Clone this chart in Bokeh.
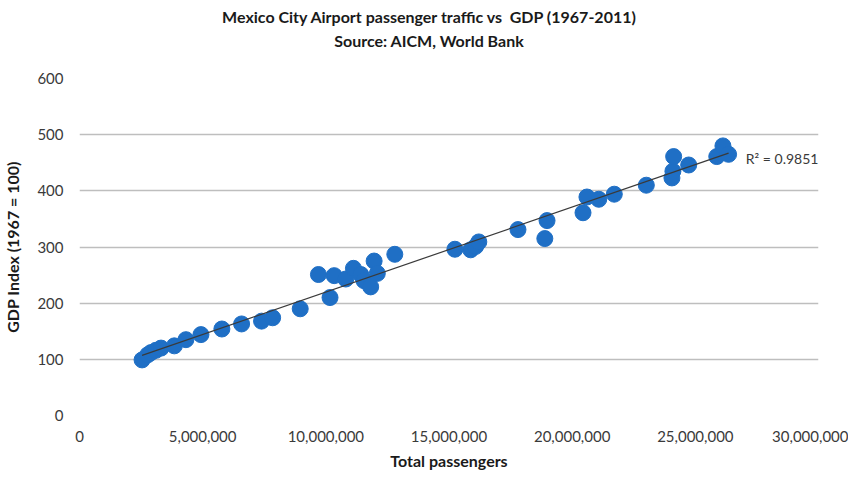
import numpy as np
from bokeh.plotting import figure
from bokeh.models import Range1d, FixedTicker, NumeralTickFormatter, Label, Div
from bokeh.layouts import column
from bokeh.embed import file_html
from bokeh.resources import INLINE

# Total passengers (millions) and GDP index (1967 = 100)
passengers_m = [2.54, 2.77, 2.90, 3.10, 3.31, 3.85, 4.32, 4.93, 5.78, 6.58,
                7.39, 7.84, 8.96, 9.70, 10.17, 10.34, 10.81, 11.12, 11.42, 11.55,
                11.82, 11.96, 12.09, 12.80, 15.24, 15.88, 16.08, 16.21, 17.80, 18.89,
                18.98, 20.44, 20.60, 21.08, 21.71, 23.01, 24.05, 24.09, 24.12, 24.73,
                25.87, 26.12, 26.35]
gdp_index = [99, 108, 112, 116, 120, 124, 135, 144, 154, 163,
             168, 174, 190, 251, 210, 249, 243, 262, 251, 240,
             229, 275, 253, 287, 296, 295, 301, 309, 331, 315,
             347, 361, 389, 385, 394, 410, 423, 435, 461, 446,
             461, 480, 465]
x_ticks = [0, 5_000_000, 10_000_000, 15_000_000, 20_000_000, 25_000_000, 30_000_000]
y_ticks = [0, 100, 200, 300, 400, 500, 600]
title_lines = ["Mexico City Airport passenger traffic vs  GDP (1967-2011)",
               "Source: AICM, World Bank"]
r2_text = "R² = 0.9851"

passengers = [v * 1_000_000 for v in passengers_m]

FONT = "Lato"
TXT = "#3a3a3a"

# centred two-line title
title_div = Div(text="<br>".join(title_lines), width=848, height=60,
                styles={"text-align": "center", "font-family": "Lato", "font-weight": "bold",
                        "font-size": "16px", "line-height": "24px", "color": "#1a1a1a",
                        "white-space": "pre"})

p = figure(width=848, height=402, output_backend="svg", toolbar_location=None,
           x_range=Range1d(0, 30_000_000), y_range=Range1d(0, 600),
           min_border_left=72, min_border_right=30, min_border_top=8, min_border_bottom=40)
p.outline_line_color = None
p.background_fill_color = "white"
p.border_fill_color = "white"

# axes
p.xaxis.ticker = FixedTicker(ticks=x_ticks)
p.xaxis.formatter = NumeralTickFormatter(format="0,0")
p.yaxis.ticker = FixedTicker(ticks=y_ticks)
for ax in (p.xaxis[0], p.yaxis[0]):
    ax.axis_line_color = None
    ax.major_tick_line_color = None
    ax.minor_tick_line_color = None
    ax.major_tick_out = 0
    ax.major_tick_in = 0
    ax.major_label_text_font = FONT
    ax.major_label_text_font_size = "15px"
    ax.major_label_text_color = TXT
    ax.axis_label_text_font = FONT
    ax.axis_label_text_font_size = "16px"
    ax.axis_label_text_font_style = "bold"
    ax.axis_label_text_color = "#1a1a1a"
p.xaxis.axis_label = "Total passengers"
p.yaxis.axis_label = "GDP Index (1967 = 100)"
p.xaxis.major_label_standoff = 15
p.yaxis.major_label_standoff = 16
p.xaxis.axis_label_standoff = 6
p.yaxis.axis_label_standoff = 12

p.xgrid.grid_line_color = None
p.ygrid.ticker = FixedTicker(ticks=y_ticks)
p.ygrid.grid_line_color = "#BEBEBE"
p.ygrid.grid_line_width = 1.5

# points
p.scatter(passengers, gdp_index, size=16, color="#1F6FC5", line_color="#1F6FC5")

# linear trend line fitted to the data
slope, intercept = np.polyfit(passengers, gdp_index, 1)
xs = [min(passengers), max(passengers)]
p.line(xs, [slope * v + intercept for v in xs], line_color="#3a3a3a", line_width=1.2)

p.add_layout(Label(x=27_050_000, y=457, text=r2_text, text_font=FONT, text_font_size="14px",
                   text_color=TXT, text_baseline="middle"))

layout = column(title_div, p, spacing=0)
open("out.html", "w").write(file_html(layout, INLINE))
